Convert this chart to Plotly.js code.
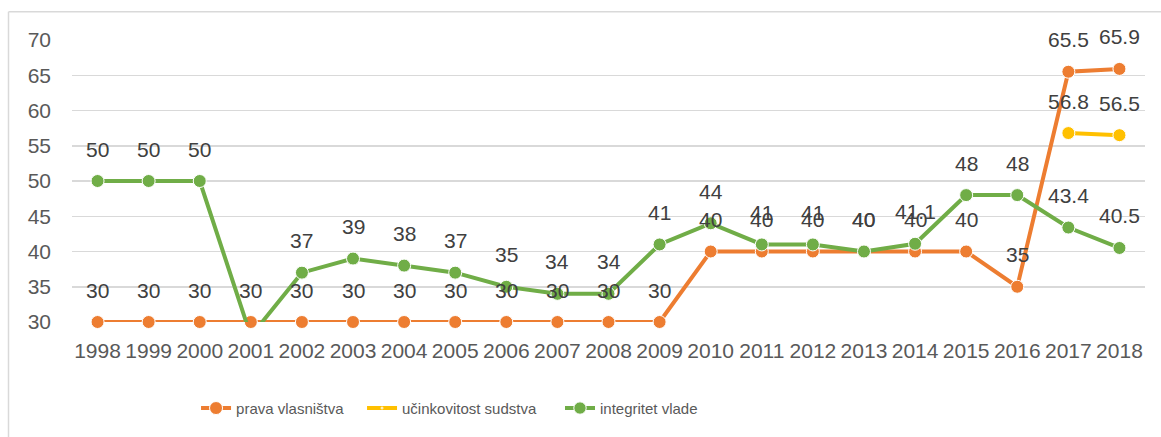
<!DOCTYPE html>
<html>
<head>
<meta charset="utf-8">
<script src="https://cdn.plot.ly/plotly-3.0.1.min.js"></script>
<style>html,body{margin:0;padding:0;background:#fff;}#chart{width:1161px;height:437px;}</style>
</head>
<body>
<div id="chart"></div>
<script>
const years = ["1998","1999","2000","2001","2002","2003","2004","2005","2006","2007","2008","2009","2010","2011","2012","2013","2014","2015","2016","2017","2018"];
const pravaVlasnistva = [30,30,30,30,30,30,30,30,30,30,30,30,40,40,40,40,40,40,35,65.5,65.9];
const ucinkovitostSudstva = [null,null,null,null,null,null,null,null,null,null,null,null,null,null,null,null,null,null,null,56.8,56.5];
const integritetVlade = [50,50,50,28,37,39,38,37,35,34,34,41,44,41,41,40,41.1,48,48,43.4,40.5];
const seriesNames = ["prava vlasništva","učinkovitost sudstva","integritet vlade"];
const yTicks = [30,35,40,45,50,55,60,65,70];

const colors = ["#ED7D31","#FFC000","#70AD47"];
const allSeries = [pravaVlasnistva, ucinkovitostSudstva, integritetVlade];
const yMin = 30, yMax = 70;
const FONT = "Liberation Sans, Arial, sans-serif";
const legendIds = ["legend","legend2","legend3"];

const traces = allSeries.map((vals, i) => ({
  type: "scatter",
  mode: "lines+markers",
  name: seriesNames[i],
  legend: legendIds[i],
  x: years,
  y: vals,
  line: {color: colors[i], width: 4},
  marker: {color: colors[i], opacity: 1, size: vals.map(v => (v === null || v < yMin) ? 0 : 13)},
  cliponaxis: false,
  hoverinfo: "x+y"
}));

const annotations = [];
allSeries.forEach((vals, i) => {
  vals.forEach((v, j) => {
    if (v === null || v < yMin) return;
    annotations.push({
      x: j, y: v, xref: "x", yref: "y",
      text: String(v), showarrow: false, yshift: 32,
      font: {family: FONT, size: 21, color: "#404040"}
    });
  });
});

const plotH = 437 - 40 - 115;
const plotW = 1161 - 72 - 16;
const shapes = [
  {type: "line", xref: "paper", yref: "paper", x0: (8.5-72)/plotW, x1: 1.2, y0: (321.7-11.5)/plotH, y1: (321.7-11.5)/plotH, line: {color: "#D9D9D9", width: 1.5}},
  {type: "line", xref: "paper", yref: "paper", x0: (8.5-72)/plotW, x1: (8.5-72)/plotW, y0: (321.7-11.5)/plotH, y1: -0.6, line: {color: "#D9D9D9", width: 1.5}}
];

const legendFont = {family: FONT, size: 15, color: "#595959"};
const legendX = [0.1156, 0.2703, 0.4548];
const legendBase = (x) => ({orientation: "h", x: x, xanchor: "left", y: -0.306, yanchor: "middle", font: legendFont, bgcolor: "rgba(0,0,0,0)"});

const layout = {
  width: 1161, height: 437,
  margin: {l: 72, r: 16, t: 40, b: 115},
  paper_bgcolor: "#fff", plot_bgcolor: "#fff",
  showlegend: true,
  legend: legendBase(legendX[0]),
  legend2: legendBase(legendX[1]),
  legend3: legendBase(legendX[2]),
  xaxis: {type: "category", range: [-0.5, 20.5], showgrid: false, zeroline: false, showline: false,
          ticks: "", tickfont: {family: FONT, size: 21, color: "#595959"}, ticklabelstandoff: 14, fixedrange: true},
  yaxis: {range: [yMin, yMax], tickvals: yTicks, ticktext: yTicks.map(String), showgrid: true, gridcolor: "#D9D9D9", gridwidth: 1.5,
          zeroline: false, showline: false, ticks: "", tickfont: {family: FONT, size: 21, color: "#595959"}, ticklabelstandoff: 20, fixedrange: true},
  annotations: annotations,
  shapes: shapes
};

Plotly.newPlot("chart", traces, layout, {displayModeBar: false, staticPlot: true});
</script>
</body>
</html>
